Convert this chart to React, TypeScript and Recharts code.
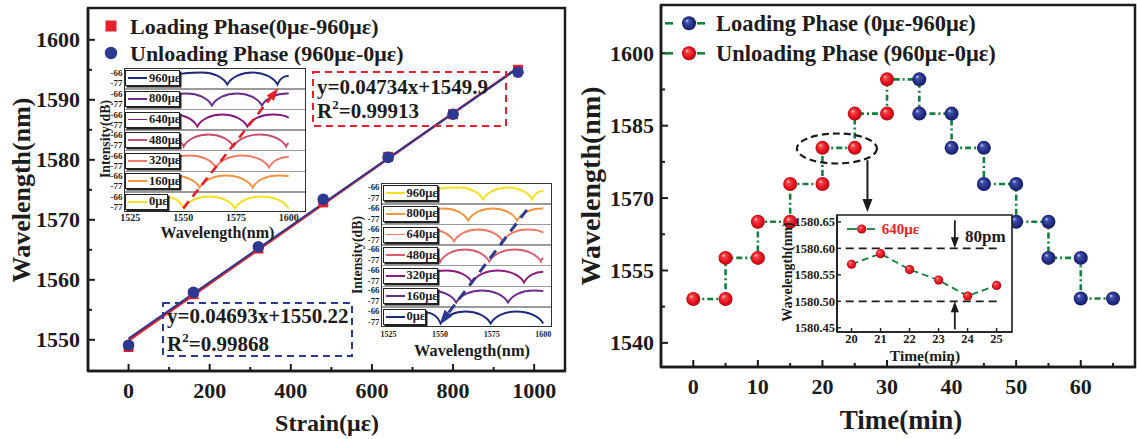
import React from 'react';
import {
  ComposedChart, LineChart, Line, Scatter, XAxis, YAxis,
  ReferenceArea, ReferenceLine, ReferenceDot,
} from 'recharts';

const SERIF = '"Liberation Serif", "Times New Roman", Times, serif';
const INK = '#1c1c1c';
const RED = '#e8202a';
const NAVY = '#2b3990';
const GREEN = '#13803d';

// ===== Left panel: wavelength vs strain =====
const STRAIN = [0, 160, 320, 480, 640, 800, 960];
const LOADING_WL = [1548.8, 1557.6, 1565.2, 1572.9, 1580.5, 1587.6, 1595.0];
const UNLOADING_WL = [1549.1, 1557.9, 1565.5, 1573.4, 1580.4, 1587.6, 1594.6];
const FIT_STRAIN = [0, 960];
const LOADING_FIT_WL = [1549.9, 1595.35];
const UNLOADING_FIT_WL = [1550.22, 1595.27];
const STRAIN_TICKS = [0, 100, 200, 300, 400, 500, 600, 700, 800, 900, 1000];
const STRAIN_MAJOR = [0, 200, 400, 600, 800, 1000];
const LEFT_WL_TICKS = [1550, 1555, 1560, 1565, 1570, 1575, 1580, 1585, 1590, 1595, 1600];
const LEFT_WL_MAJOR = [1550, 1560, 1570, 1580, 1590, 1600];

// ===== Spectra insets (wavelength nm, intensity dB) =====
const STRAIN_LABELS = ['960με', '800με', '640με', '480με', '320με', '160με', '0με'];
const SPECTRUM_960 = [[1546, -69], [1559, -66], [1570.9, -78.5], [1582.8, -66], [1594.7, -78.5], [1600, -69.5]];
const SPECTRUM_800 = [[1546, -67], [1551.8, -66], [1563.6, -78.5], [1575.5, -66], [1587.3, -78.5], [1599.2, -66], [1600, -66.1]];
const SPECTRUM_640 = [[1546, -66.2], [1556.7, -78.5], [1568.5, -66], [1580.4, -78.5], [1592.3, -66], [1600, -69.5]];
const SPECTRUM_480 = [[1548.4, -74.5], [1550.2, -78.5], [1562, -66], [1573.8, -78.5], [1586.3, -66], [1598.8, -78.5], [1600, -75.5]];
const SPECTRUM_320 = [[1546, -68], [1553.3, -66], [1565.5, -78.5], [1578.1, -66], [1590.7, -78.5], [1600, -67.3]];
const SPECTRUM_160 = [[1546, -66.3], [1557.8, -78.5], [1570.3, -66], [1582.9, -78.5], [1595, -66], [1600, -66.8]];
const SPECTRUM_0 = [[1543, -67], [1550.3, -78.5], [1562.4, -66], [1574.5, -78.5], [1587, -66], [1600, -78.5]];
const SPECTRA = [SPECTRUM_960, SPECTRUM_800, SPECTRUM_640, SPECTRUM_480, SPECTRUM_320, SPECTRUM_160, SPECTRUM_0];
const INSET_A_COLORS = ['#1b2a7b', '#6a2c8f', '#86197f', '#c9506c', '#ec7b68', '#f39440', '#f3e01f'];
const INSET_B_COLORS = ['#f3e01f', '#f39440', '#ef7a62', '#dc5c6e', '#8e1c7f', '#6a2c8f', '#1b2a7b'];
const SPECTRUM_NM_TICKS = [1525, 1550, 1575, 1600];
const SPECTRUM_DB_TICKS = [-66, -77];
const ROW_DB_DOMAIN = [-82.8, -61.4];

// ===== Right panel: wavelength vs time =====
const UNLOAD_TIME = [0, 5, 5, 10, 10, 15, 15, 20, 20, 25, 25, 30, 30];
const UNLOAD_WL = [1549.1, 1549.1, 1557.6, 1557.6, 1565.1, 1565.1, 1572.9, 1572.9, 1580.4, 1580.4, 1587.5, 1587.5, 1594.6];
const LOAD_TIME = [35, 35, 40, 40, 45, 45, 50, 50, 55, 55, 60, 60, 65];
const LOAD_WL = [1594.6, 1587.5, 1587.5, 1580.4, 1580.4, 1572.9, 1572.9, 1565.1, 1565.1, 1557.6, 1557.6, 1549.2, 1549.2];
const TIME_TICKS = [0, 5, 10, 15, 20, 25, 30, 35, 40, 45, 50, 55, 60, 65];
const TIME_MAJOR = [0, 10, 20, 30, 40, 50, 60];
const RIGHT_WL_TICKS = [1540, 1547.5, 1555, 1562.5, 1570, 1577.5, 1585, 1592.5, 1600];
const RIGHT_WL_MAJOR = [1540, 1555, 1570, 1585, 1600];

// ===== Right inset: 640 με stability =====
const INSET_TIME = [20, 21, 22, 23, 24, 25];
const INSET_WL = [1580.57, 1580.59, 1580.56, 1580.54, 1580.51, 1580.53];
const INSET_WL_TICKS = [1580.45, 1580.5, 1580.55, 1580.6, 1580.65];

// ---------- helpers ----------
const near = (list: number[], v: number) => list.some((m) => Math.abs(m - v) < 1e-6);

function bottomTick(majors: number[], fontSize: number, baseOff: number, majorLen: number, minorLen: number, fmt?: (v: number) => string, sw = 2) {
  return (props: any) => {
    const { x, y, payload } = props;
    const v = payload.value;
    const isMajor = near(majors, v);
    return (
      <g>
        {majorLen > 0 && (
          <line x1={x} y1={y} x2={x} y2={y - (isMajor ? majorLen : minorLen)} stroke={INK} strokeWidth={sw} />
        )}
        {isMajor && (
          <text x={x} y={y + baseOff} textAnchor="middle" fontFamily={SERIF} fontWeight={700} fontSize={fontSize} fill={INK}>
            {fmt ? fmt(v) : String(v)}
          </text>
        )}
      </g>
    );
  };
}

function leftTick(majors: number[], fontSize: number, gap: number, majorLen: number, minorLen: number, fmt?: (v: number) => string, sw = 2) {
  return (props: any) => {
    const { x, y, payload } = props;
    const v = payload.value;
    const isMajor = near(majors, v);
    return (
      <g>
        {majorLen > 0 && (
          <line x1={x} y1={y} x2={x + (isMajor ? majorLen : minorLen)} y2={y} stroke={INK} strokeWidth={sw} />
        )}
        {isMajor && (
          <text x={x - gap} y={y + fontSize * 0.34} textAnchor="end" fontFamily={SERIF} fontWeight={700} fontSize={fontSize} fill={INK}>
            {fmt ? fmt(v) : String(v)}
          </text>
        )}
      </g>
    );
  };
}

// cusp-at-dip, rounded-at-peak curve for the interference spectra
function archCurve(context: any) {
  let pts: number[][] = [];
  return {
    areaStart() {},
    areaEnd() {},
    lineStart() { pts = []; },
    point(x: number, y: number) { pts.push([+x, +y]); },
    lineEnd() {
      if (!pts.length) return;
      context.moveTo(pts[0][0], pts[0][1]);
      for (let i = 1; i < pts.length; i++) {
        const [x0, y0] = pts[i - 1];
        const [x1, y1] = pts[i];
        const dx = x1 - x0;
        const dy = y1 - y0;
        if (dy < 0) {
          context.bezierCurveTo(x0 + 0.16 * dx, y0 + 0.62 * dy, x1 - 0.42 * dx, y1, x1, y1);
        } else {
          context.bezierCurveTo(x0 + 0.42 * dx, y0, x1 - 0.16 * dx, y1 - 0.62 * dy, x1, y1);
        }
      }
    },
  };
}

const ball = (r: number, grad: string) => (p: any) => (
  <circle cx={p.cx} cy={p.cy} r={r} fill={`url(#${grad})`} />
);

// tip at (cx, cy); 'down' means the arrow points downward
const arrowHead = (dir: 'up' | 'down', w: number, h: number, color = INK) => (p: any) => {
  const by = dir === 'down' ? p.cy - h : p.cy + h;
  return (
    <polygon points={`${p.cx},${p.cy} ${p.cx - w / 2},${by} ${p.cx + w / 2},${by}`} fill={color} />
  );
};

function GradientDefs() {
  return (
    <svg width={0} height={0} style={{ position: 'absolute' }}>
      <defs>
        <radialGradient id="gRed" cx="50%" cy="50%" r="55%" fx="34%" fy="30%">
          <stop offset="0%" stopColor="#ffe4e4" />
          <stop offset="22%" stopColor="#f4474c" />
          <stop offset="65%" stopColor="#e3121c" />
          <stop offset="100%" stopColor="#a8000c" />
        </radialGradient>
        <radialGradient id="gBlue" cx="50%" cy="50%" r="55%" fx="34%" fy="30%">
          <stop offset="0%" stopColor="#e0e4f6" />
          <stop offset="22%" stopColor="#4553ad" />
          <stop offset="65%" stopColor="#222d84" />
          <stop offset="100%" stopColor="#111a5a" />
        </radialGradient>
      </defs>
    </svg>
  );
}

// ---------- left main ----------
function LeftMain() {
  const loading = STRAIN.map((x, i) => ({ x, y: LOADING_WL[i] }));
  const unloading = STRAIN.map((x, i) => ({ x, y: UNLOADING_WL[i] }));
  const loadingFit = FIT_STRAIN.map((x, i) => ({ x, y: LOADING_FIT_WL[i] }));
  const unloadingFit = FIT_STRAIN.map((x, i) => ({ x, y: UNLOADING_FIT_WL[i] }));
  const xd = [-100, 1076];
  const yd = [1544.8, 1605.3];
  return (
    <div style={{ position: 'absolute', left: 0, top: 0 }}>
      <ComposedChart width={580} height={439} margin={{ top: 8, right: 15, bottom: 38, left: 28 }}>
        <ReferenceArea x1={xd[0]} x2={xd[1]} y1={yd[0]} y2={yd[1]} fill="none" stroke={INK} strokeWidth={2.5} ifOverflow="visible" />
        <XAxis type="number" dataKey="x" domain={xd} ticks={STRAIN_TICKS} interval={0}
          tick={bottomTick(STRAIN_MAJOR, 22, 27, 7, 4)} tickLine={false} tickSize={0} tickMargin={0}
          axisLine={{ stroke: INK, strokeWidth: 2.5 }} height={30} allowDataOverflow />
        <YAxis type="number" domain={yd} ticks={LEFT_WL_TICKS} interval={0}
          tick={leftTick(LEFT_WL_MAJOR, 22, 8, 7, 4)} tickLine={false} tickSize={0} tickMargin={0}
          axisLine={{ stroke: INK, strokeWidth: 2.5 }} width={60} allowDataOverflow />
        <Line data={loadingFit} dataKey="y" stroke={RED} strokeWidth={2.6} dot={false} isAnimationActive={false} type="linear" />
        <Line data={unloadingFit} dataKey="y" stroke={NAVY} strokeWidth={2} dot={false} isAnimationActive={false} type="linear" />
        <Scatter data={loading} dataKey="y" isAnimationActive={false}
          shape={(p: any) => <rect x={p.cx - 5} y={p.cy - 5} width={10} height={10} fill={RED} />} />
        <Scatter data={unloading} dataKey="y" isAnimationActive={false}
          shape={(p: any) => <circle cx={p.cx} cy={p.cy} r={5.8} fill={NAVY} />} />
      </ComposedChart>
    </div>
  );
}

// ---------- spectra insets ----------
type InsetGeom = { left: number; top: number; w: number; rowH: number; domain: number[]; xFont: number; xBase: number; yFont: number };
const INSET_A: InsetGeom = { left: 123.5, top: 68.3, w: 182.5, rowH: 20.6, domain: [1522, 1608.4], xFont: 10, xBase: 8.5, yFont: 9 };
const INSET_B: InsetGeom = { left: 381, top: 183.3, w: 171, rowH: 20.6, domain: [1521.4, 1604.2], xFont: 8, xBase: 9.5, yFont: 8.8 };
const YW = 22;
const LEGEND_W = [55, 55, 55, 55, 55, 55, 43];

function SpectrumRow({ g, row, color }: { g: InsetGeom; row: number; color: string }) {
  const showX = row === 6;
  const h = g.rowH + (showX ? 18 : 0);
  const data = SPECTRA[row].map(([nm, db]) => ({ nm, db }));
  return (
    <div style={{ position: 'absolute', left: g.left - YW, top: g.top + row * g.rowH }}>
      <LineChart width={g.w + YW} height={h} data={data} margin={{ top: 0, right: 0, bottom: 0, left: 0 }}>
        <XAxis type="number" dataKey="nm" domain={g.domain} hide={!showX} height={18} ticks={SPECTRUM_NM_TICKS}
          interval={0} tick={bottomTick(SPECTRUM_NM_TICKS, g.xFont, g.xBase, 0, 0)} tickLine={false}
          tickSize={0} tickMargin={0} axisLine={false} allowDataOverflow />
        <YAxis type="number" domain={ROW_DB_DOMAIN} ticks={SPECTRUM_DB_TICKS} width={YW} interval={0}
          tick={leftTick(SPECTRUM_DB_TICKS, g.yFont, 1.5, 0, 0)} tickLine={false} tickSize={0} tickMargin={0}
          axisLine={false} allowDataOverflow />
        <Line dataKey="db" stroke={color} strokeWidth={1.9} dot={false} isAnimationActive={false} type={archCurve as any} />
      </LineChart>
    </div>
  );
}

function SpectrumInset({ g, colors }: { g: InsetGeom; colors: string[] }) {
  return (
    <>
      <div style={{ position: 'absolute', left: g.left, top: g.top, width: g.w, height: 7 * g.rowH, background: '#fff', border: '1px solid #333', boxSizing: 'border-box' }}>
        {[1, 2, 3, 4, 5, 6].map((i) => (
          <div key={i} style={{ position: 'absolute', left: 0, right: 0, top: i * g.rowH - 1.75, height: 1.5, background: '#9a9a9a' }} />
        ))}
      </div>
      {SPECTRA.map((_, i) => <SpectrumRow key={i} g={g} row={i} color={colors[i]} />)}
      {STRAIN_LABELS.map((lab, i) => (
        <div key={lab} style={{ position: 'absolute', left: g.left + 1.5, top: g.top + i * g.rowH + 2, width: LEGEND_W[i], height: g.rowH - 4.5, background: '#fff', border: '1px solid #222', boxShadow: '1.5px 1.5px 0 #222', boxSizing: 'border-box' }}>
          <div style={{ position: 'absolute', left: 2, top: '50%', width: 19, height: 1.8, marginTop: -0.9, background: colors[i] }} />
          <div style={{ position: 'absolute', left: 23, top: 0, bottom: 0, display: 'flex', alignItems: 'center', font: `bold 12.5px ${SERIF}`, color: INK, whiteSpace: 'nowrap' }}>{lab}</div>
        </div>
      ))}
    </>
  );
}

const insetX = (g: InsetGeom, nm: number) => g.left + ((nm - g.domain[0]) / (g.domain[1] - g.domain[0])) * g.w;
const insetY = (g: InsetGeom, row: number, db: number) =>
  g.top + row * g.rowH + ((ROW_DB_DOMAIN[1] - db) / (ROW_DB_DOMAIN[1] - ROW_DB_DOMAIN[0])) * g.rowH;

function DashedArrow({ x1, y1, x2, y2, color, width, dash, headL, headW }: any) {
  const dx = x2 - x1;
  const dy = y2 - y1;
  const len = Math.hypot(dx, dy);
  const ux = dx / len;
  const uy = dy / len;
  const bx = x2 - ux * headL;
  const by = y2 - uy * headL;
  const px = -uy * headW / 2;
  const py = ux * headW / 2;
  return (
    <g>
      <line x1={x1} y1={y1} x2={bx} y2={by} stroke={color} strokeWidth={width} strokeDasharray={dash} />
      <polygon points={`${x2},${y2} ${bx + px},${by + py} ${bx - px},${by - py}`} fill={color} />
    </g>
  );
}

// ---------- right main ----------
function RightMain() {
  const unload = UNLOAD_TIME.map((t, i) => ({ t, wl: UNLOAD_WL[i] }));
  const load = LOAD_TIME.map((t, i) => ({ t, wl: LOAD_WL[i] }));
  const path = [...unload, ...load];
  const xd = [-5, 68.4];
  const yd = [1535, 1610];
  return (
    <div style={{ position: 'absolute', left: 580, top: 0 }}>
      <ComposedChart width={557} height={439} margin={{ top: 5, right: 2, bottom: 42, left: 21 }}>
        <ReferenceArea x1={xd[0]} x2={xd[1]} y1={yd[0]} y2={yd[1]} fill="none" stroke={INK} strokeWidth={2.5} ifOverflow="visible" />
        <XAxis type="number" dataKey="t" domain={xd} ticks={TIME_TICKS} interval={0}
          tick={bottomTick(TIME_MAJOR, 22, 27, 7, 4)} tickLine={false} tickSize={0} tickMargin={0}
          axisLine={{ stroke: INK, strokeWidth: 2.5 }} height={30} allowDataOverflow />
        <YAxis type="number" domain={yd} ticks={RIGHT_WL_TICKS} interval={0}
          tick={leftTick(RIGHT_WL_MAJOR, 22, 7, 7, 4)} tickLine={false} tickSize={0} tickMargin={0}
          axisLine={{ stroke: INK, strokeWidth: 2.5 }} width={60} allowDataOverflow />
        <Line data={path} dataKey="wl" stroke={GREEN} strokeWidth={2.6} strokeDasharray="6 3 2 3" dot={false} isAnimationActive={false} type="linear" />
        <Scatter data={unload} dataKey="wl" isAnimationActive={false} shape={ball(7, 'gRed')} />
        <Scatter data={load} dataKey="wl" isAnimationActive={false} shape={ball(7, 'gBlue')} />
        <ReferenceDot x={22.24} y={1580.27} r={1} ifOverflow="visible"
          shape={(p: any) => <ellipse cx={p.cx} cy={p.cy} rx={40} ry={15} fill="none" stroke={INK} strokeWidth={2.2} strokeDasharray="7 4" />} />
        <ReferenceLine segment={[{ x: 26.97, y: 1577.85 }, { x: 26.97, y: 1569.3 }]} stroke={INK} strokeWidth={2} ifOverflow="visible" />
        <ReferenceDot x={26.97} y={1567.1} r={1} ifOverflow="visible" shape={arrowHead('down', 10, 13)} />
      </ComposedChart>
    </div>
  );
}

function RightInset() {
  const pts = INSET_TIME.map((t, i) => ({ t, wl: INSET_WL[i] }));
  const xd = [19.5, 25.53];
  const yd = [1580.442, 1580.663];
  return (
    <div style={{ position: 'absolute', left: 780, top: 205 }}>
      <ComposedChart width={240} height={175} margin={{ top: 10, right: 8, bottom: 28, left: 0 }}>
        <ReferenceArea x1={xd[0]} x2={xd[1]} y1={yd[0]} y2={yd[1]} fill="#fff" fillOpacity={1} stroke={INK} strokeWidth={1.6} ifOverflow="visible" />
        <XAxis type="number" dataKey="t" domain={xd} ticks={INSET_TIME} interval={0}
          tick={bottomTick(INSET_TIME, 12.5, 11.2, 4, 4, undefined, 1.4)} tickLine={false} tickSize={0} tickMargin={0}
          axisLine={{ stroke: INK, strokeWidth: 1.6 }} height={20} allowDataOverflow />
        <YAxis type="number" domain={yd} ticks={INSET_WL_TICKS} interval={0}
          tick={leftTick(INSET_WL_TICKS, 12.5, 2, 4, 4, (v) => v.toFixed(2), 1.4)} tickLine={false} tickSize={0} tickMargin={0}
          axisLine={{ stroke: INK, strokeWidth: 1.6 }} width={57} allowDataOverflow />
        <ReferenceLine segment={[{ x: 19.8, y: 1580.6 }, { x: 25.1, y: 1580.6 }]} stroke={INK} strokeWidth={1.8} strokeDasharray="8 5" />
        <ReferenceLine segment={[{ x: 19.8, y: 1580.5 }, { x: 25.1, y: 1580.5 }]} stroke={INK} strokeWidth={1.8} strokeDasharray="8 5" />
        <ReferenceLine segment={[{ x: 23.56, y: 1580.653 }, { x: 23.56, y: 1580.617 }]} stroke={INK} strokeWidth={1.8} />
        <ReferenceDot x={23.56} y={1580.6} r={1} shape={arrowHead('down', 8, 11)} />
        <ReferenceLine segment={[{ x: 23.56, y: 1580.447 }, { x: 23.56, y: 1580.483 }]} stroke={INK} strokeWidth={1.8} />
        <ReferenceDot x={23.56} y={1580.5} r={1} shape={arrowHead('up', 8, 11)} />
        <Line data={pts} dataKey="wl" stroke={GREEN} strokeWidth={1.8} strokeDasharray="7 4" dot={false} isAnimationActive={false} type="linear" />
        <Scatter data={pts} dataKey="wl" isAnimationActive={false} shape={ball(4.6, 'gRed')} />
      </ComposedChart>
    </div>
  );
}

// ---------- text overlays ----------
const T = ({ x, y, size, anchor = 'start', rot, fill = INK, children }: any) => (
  <text x={x} y={y} fontSize={size} fontFamily={SERIF} fontWeight={700} fill={fill} textAnchor={anchor}
    transform={rot ? `rotate(${rot}, ${x}, ${y})` : undefined}>{children}</text>
);

function Overlay() {
  const a0 = { x: insetX(INSET_A, 1550.3), y: insetY(INSET_A, 6, -78.5) };
  const a1 = { x: insetX(INSET_A, 1595.3), y: insetY(INSET_A, 0, -82) };
  const b0 = { x: insetX(INSET_B, 1592), y: insetY(INSET_B, 1, -67.7) };
  const b1 = { x: insetX(INSET_B, 1549.7), y: insetY(INSET_B, 6, -80) };
  return (
    <svg width={1137} height={439} style={{ position: 'absolute', left: 0, top: 0, pointerEvents: 'none' }}>
      {/* left main titles */}
      <T x={30} y={190} size={26} anchor="middle" rot={-90}>Wavelength(nm)</T>
      <T x={327} y={431} size={24} anchor="middle">Strain(με)</T>
      {/* left legend */}
      <rect x={105.5} y={20.5} width={11} height={11} fill={RED} />
      <circle cx={111} cy={53} r={6.2} fill={NAVY} />
      <T x={130} y={33.5} size={22}>Loading Phase(0με-960με)</T>
      <T x={130} y={60.5} size={22}>Unloading Phase (960με-0με)</T>
      {/* equation boxes */}
      <rect x={313} y={72} width={193} height={54} fill="none" stroke={RED} strokeWidth={2} strokeDasharray="7 5" />
      <T x={317} y={94} size={21}>y=0.04734x+1549.9</T>
      <T x={317} y={118}>
        <tspan fontSize={21}>R</tspan><tspan fontSize={13} dy={-9}>2</tspan><tspan fontSize={21} dy={9}>=0.99913</tspan>
      </T>
      <rect x={163} y={303} width={189} height={53} fill="none" stroke={NAVY} strokeWidth={2} strokeDasharray="7 5" />
      <T x={167} y={323} size={21}>y=0.04693x+1550.22</T>
      <T x={167} y={351}>
        <tspan fontSize={21}>R</tspan><tspan fontSize={13} dy={-9}>2</tspan><tspan fontSize={21} dy={9}>=0.99868</tspan>
      </T>
      {/* spectra inset titles */}
      <T x={109.5} y={139} size={13.8} anchor="middle" rot={-90}>Intensity(dB)</T>
      <T x={217.5} y={238} size={16} anchor="middle">Wavelength(nm)</T>
      <T x={361.5} y={255} size={13.8} anchor="middle" rot={-90}>Intensity(dB)</T>
      <T x={472} y={356} size={16.3} anchor="middle">Wavelength(nm)</T>
      <DashedArrow x1={a0.x} y1={a0.y} x2={a1.x} y2={a1.y} color="#e3202a" width={2.6} dash="9 6" headL={13} headW={9} />
      <DashedArrow x1={b0.x} y1={b0.y} x2={b1.x} y2={b1.y} color={NAVY} width={3} dash="10 7" headL={15} headW={10} />

      {/* right main titles */}
      <T x={600} y={186} size={28} anchor="middle" rot={-90}>Wavelength(nm)</T>
      <T x={901} y={429} size={27} anchor="middle">Time(min)</T>
      {/* right legend */}
      <line x1={665} y1={23.3} x2={673} y2={23.3} stroke={GREEN} strokeWidth={2.6} />
      <line x1={697} y1={23.3} x2={705} y2={23.3} stroke={GREEN} strokeWidth={2.6} />
      <circle cx={689} cy={23.3} r={7} fill="url(#gBlue)" />
      <T x={716} y={31} size={22.5}>Loading Phase (0με-960με)</T>
      <line x1={665} y1={53.3} x2={673} y2={53.3} stroke={GREEN} strokeWidth={2.6} />
      <line x1={697} y1={53.3} x2={705} y2={53.3} stroke={GREEN} strokeWidth={2.6} />
      <circle cx={689} cy={53.3} r={7} fill="url(#gRed)" />
      <T x={716} y={61} size={22.5}>Unloading Phase (960με-0με)</T>
      {/* right inset texts */}
      <T x={792} y={272} size={14} anchor="middle" rot={-90}>Wavelength(nm)</T>
      <T x={925} y={361} size={15.5} anchor="middle">Time(min)</T>
      <line x1={847} y1={229} x2={857} y2={229} stroke={GREEN} strokeWidth={1.8} />
      <line x1={867} y1={229} x2={875} y2={229} stroke={GREEN} strokeWidth={1.8} />
      <circle cx={861.7} cy={229} r={4.6} fill="url(#gRed)" />
      <T x={881.7} y={234} size={15} fill={RED}>640με</T>
      <T x={965} y={242} size={17}>80pm</T>
    </svg>
  );
}

export default function App() {
  return (
    <div style={{ position: 'absolute', left: 0, top: 0, width: 1137, height: 439, background: '#fff', overflow: 'hidden', fontFamily: SERIF }}>
      <GradientDefs />
      <LeftMain />
      <SpectrumInset g={INSET_A} colors={INSET_A_COLORS} />
      <SpectrumInset g={INSET_B} colors={INSET_B_COLORS} />
      <RightMain />
      <RightInset />
      <Overlay />
    </div>
  );
}
